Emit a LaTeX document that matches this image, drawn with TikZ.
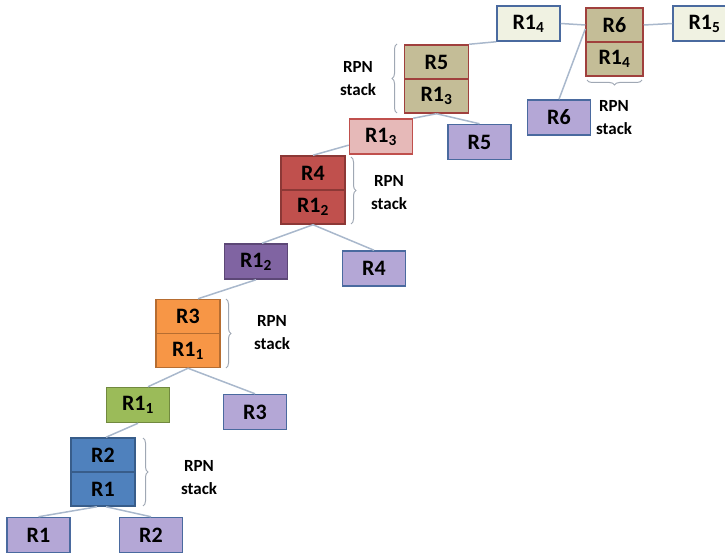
\documentclass[tikz,border=0pt]{standalone}
\usepackage{fontspec}
\setmainfont{Carlito}
\usetikzlibrary{decorations.pathreplacing}

\definecolor{leaffill}{HTML}{B4A7D6}
\definecolor{leafline}{HTML}{4A6A9F}
\definecolor{linkcol}{HTML}{A9B8CC}
\definecolor{bracecol}{HTML}{A0A8B4}

\begin{document}
\begin{tikzpicture}[x=1pt,y=1pt,
    box/.style={draw,line width=1.5pt,minimum width=63pt,minimum height=35pt,inner sep=0pt,
      font=\bfseries\fontsize{22}{26}\selectfont},
    leaf/.style={box,fill=leaffill,draw=leafline},
    cell/.style={box,minimum width=64pt,minimum height=34pt},
    link/.style={draw=linkcol,line width=1.5pt},
    rpnbrace/.style={draw=bracecol,line width=1pt,decorate,decoration={brace,amplitude=5pt}},
    rpntext/.style={align=center,font=\bfseries\fontsize{17}{23}\selectfont}]
    \useasboundingbox (0,0) rectangle (725,557);
    \clip (0,0) rectangle (725,557);

    % leaves
    \node[leaf] (l1) at (38.5,22) {R1};
    \node[leaf] (l2) at (151,22) {R2};
    \node[leaf] (l3) at (255,145) {R3};
    \node[leaf] (l4) at (374,288.5) {R4};
    \node[leaf] (l5) at (479.5,415) {R5};
    \node[leaf] (l6) at (559,439.5) {R6};

    % stacks
    \node[cell,fill={rgb,255:red,79;green,129;blue,189},draw={rgb,255:red,56;green,93;blue,138}] (s2t) at (103,102) {R2};
    \node[cell,fill={rgb,255:red,79;green,129;blue,189},draw={rgb,255:red,56;green,93;blue,138}] (s2b) at (103,68) {R1};
    \node[cell,fill={rgb,255:red,247;green,150;blue,70},draw={rgb,255:red,182;green,109;blue,49}] (s3t) at (188,240.5) {R3};
    \node[cell,fill={rgb,255:red,247;green,150;blue,70},draw={rgb,255:red,182;green,109;blue,49}] (s3b) at (188,206.5) {R1\textsubscript{1}};
    \node[cell,fill={rgb,255:red,192;green,80;blue,77},draw={rgb,255:red,140;green,56;blue,54}] (s4t) at (313,384) {R4};
    \node[cell,fill={rgb,255:red,192;green,80;blue,77},draw={rgb,255:red,140;green,56;blue,54}] (s4b) at (313,350) {R1\textsubscript{2}};
    \node[cell,fill={rgb,255:red,196;green,189;blue,151},draw={rgb,255:red,160;green,64;blue,61}] (s5t) at (436.5,495) {R5};
    \node[cell,fill={rgb,255:red,196;green,189;blue,151},draw={rgb,255:red,160;green,64;blue,61}] (s5b) at (436.5,461) {R1\textsubscript{3}};
    \node[cell,minimum width=57pt,fill={rgb,255:red,196;green,189;blue,151},draw={rgb,255:red,160;green,64;blue,61}] (s6t) at (614.5,532) {R6};
    \node[cell,minimum width=57pt,fill={rgb,255:red,196;green,189;blue,151},draw={rgb,255:red,160;green,64;blue,61}] (s6b) at (614.5,498) {R1\textsubscript{4}};

    % pushed R1 copies
    \node[box,fill={rgb,255:red,155;green,187;blue,89},draw={rgb,255:red,113;green,137;blue,63}] (p11) at (138,152) {R1\textsubscript{1}};
    \node[box,fill={rgb,255:red,128;green,100;blue,162},draw={rgb,255:red,92;green,71;blue,118}] (p12) at (256,295.5) {R1\textsubscript{2}};
    \node[box,fill={rgb,255:red,230;green,185;blue,184},draw={rgb,255:red,192;green,80;blue,77}] (p13) at (381,420.5) {R1\textsubscript{3}};
    \node[box,fill={rgb,255:red,240;green,242;blue,226},draw=leafline] (p14) at (528.5,533.5) {R1\textsubscript{4}};
    \node[box,fill={rgb,255:red,240;green,242;blue,226},draw=leafline] (p15) at (704.5,533.5) {R1\textsubscript{5}};

    % links
    \draw[link] ([xshift=-6pt]s2b.south) -- (l1.north);
    \draw[link] ([xshift=3pt]s2b.south) -- (l2.north);
    \draw[link] (p11.south) -- ([xshift=3pt]s2t.north);
    \draw[link] (s3b.south) -- ([xshift=10pt]p11.north);
    \draw[link] (s3b.south) -- (l3.north);
    \draw[link] (p12.south) -- ([xshift=10pt]s3t.north);
    \draw[link] (s4b.south) -- ([xshift=6pt]p12.north);
    \draw[link] (s4b.south) -- (l4.north);
    \draw[link] (s4t.north) -- (p13.195);
    \draw[link] (s5b.south) -- (p13.north east);
    \draw[link] (s5b.south) -- (l5.north);
    \draw[link] (s5t.north east) -- (p14.south west);
    \draw[link] (p14.east) -- (s6t.west);
    \draw[link] (s6t.east) -- (p15.west);
    \draw[link] ([yshift=-4pt]s6t.west) -- (l6.north);

    % braces and labels
    \draw[rpnbrace] (143,119) -- (143,51);
    \node[rpntext] (t2) at (199,79) {RPN\\stack};
    \draw[rpnbrace] (226,258) -- (226,189);
    \node[rpntext] (t3) at (272,224.5) {RPN\\stack};
    \draw[rpnbrace] (351,400) -- (351,333);
    \node[rpntext] (t4) at (389,364.5) {RPN\\stack};
    \draw[rpnbrace] (397,444) -- (397,513);
    \node[rpntext] (t5) at (358,478.5) {RPN\\stack};
    \draw[rpnbrace] (642,477) -- (587,477);
    \node[rpntext] (t6) at (614,439.5) {RPN\\stack};
\end{tikzpicture}
\end{document}
